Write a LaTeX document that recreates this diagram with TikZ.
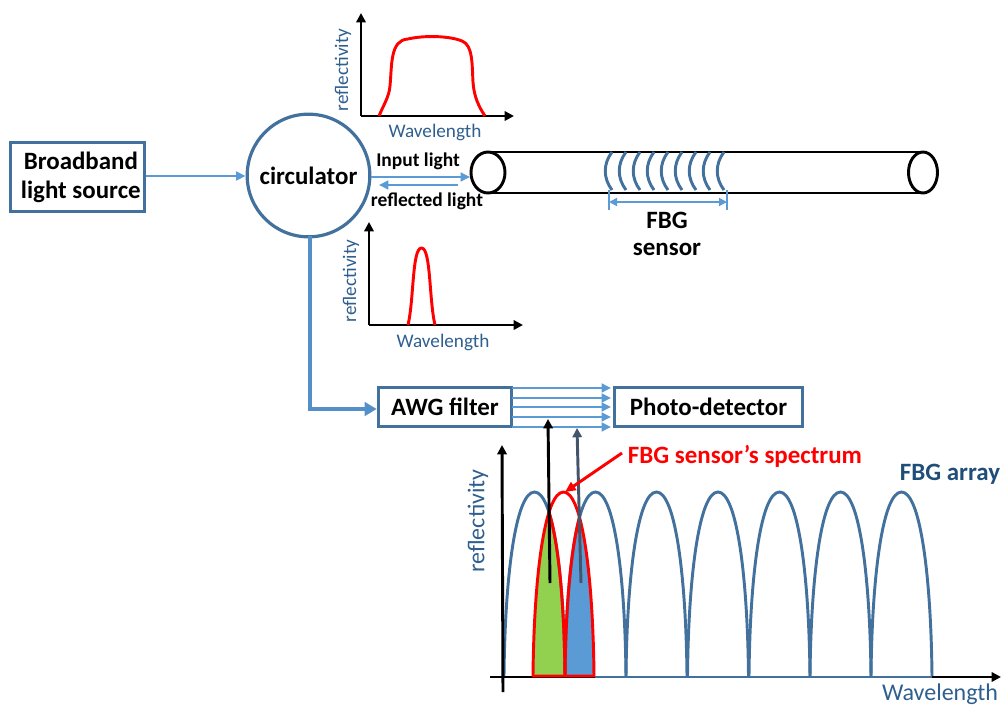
\documentclass[tikz,border=0pt]{standalone}
\usepackage{fontspec}
\setmainfont{Carlito}
\usepackage{tikz}
\usetikzlibrary{positioning,arrows.meta}
\definecolor{boxblue}{HTML}{41719C}
\definecolor{lightblue}{HTML}{5B9BD5}
\definecolor{textblue}{HTML}{2F5F8F}
\definecolor{arraytext}{HTML}{1F4E79}
\definecolor{darkgrey}{HTML}{44546A}
\definecolor{fillgreen}{HTML}{92D050}
\newcommand{\archpath}[1]{(#1,676) .. controls (#1+1,574) and (#1+12,492) .. (#1+30.5,492) .. controls (#1+49,492) and (#1+60,574) .. (#1+61,676)}
\tikzset{
	blockfont/.style={font=\fontsize{18.7}{21.7}\selectfont\bfseries},
	blockbox/.style={draw=boxblue, line width=2.4pt, blockfont, inner sep=0pt, align=center},
	lightarrow/.style={draw=lightblue, line width=1.8pt, -{Triangle[length=7pt,width=6.5pt]}},
	axisline/.style={draw=black, line width=2.2pt, -{Triangle[length=7pt,width=7pt]}},
	redcurve/.style={draw=red, line width=2.2pt, line join=round},
	arraycurve/.style={draw=boxblue, line width=2.2pt},
	smalllabel/.style={font=\fontsize{14.6}{17}\selectfont\bfseries},
	wavelabel/.style={text=textblue, font=\fontsize{14.4}{17}\selectfont},
	biglabel/.style={text=textblue, inner sep=0pt, font=\fontsize{18}{21}\selectfont},
}
\begin{document}
\begin{tikzpicture}[x=0.75pt,y=-0.75pt]
	\useasboundingbox (0,0) rectangle (1001,707);
	% boxes and circulator
	\node[blockbox, minimum width=100.5pt, minimum height=52pt] (source) at (77.5,177) {\hspace*{5pt}Broadband\\\hspace*{5pt}light source};
	\node[draw=boxblue, line width=2.4pt, circle, minimum size=92pt, inner sep=0pt, blockfont] (circ) at (308.5,175.5) {circulator};
	\node[blockbox, minimum width=100pt, minimum height=29.2pt] (awg) at (445,407) {AWG filter};
	\node[blockbox, minimum width=141pt, minimum height=29.2pt] (pd) at (708.5,407) {Photo-detector};
	% fibre
	\draw[line width=2.2pt] (487,152) -- (923,152);
	\draw[line width=2.2pt] (487,193) -- (923,193);
	\draw[line width=2.2pt, fill=white] (923,172.5) ellipse (14.5 and 20.5);
	\draw[line width=2.2pt, fill=white] (488,172.5) ellipse (17 and 20.5);
	% grating
	\foreach \gx in {612,626,640,654,668,682,696,710,724}
		\draw[draw=boxblue, line width=2.2pt] (\gx,152) .. controls (\gx-9,164) and (\gx-9,178) .. (\gx,190);
	% connectors
	\coordinate (fibrein) at (470,177);
	\coordinate (reflstart) at (458,185);
	\coordinate (reflend) at (379,185);
	\draw[lightarrow] (source.east |- 0,176) -- (circ.west |- 0,176);
	\draw[lightarrow] (circ.east |- fibrein) -- (fibrein);
	\draw[lightarrow, line width=2.1pt] (reflstart) -- (reflend);
	\coordinate (gratl) at (609,202);
	\coordinate (gratr) at (727,202);
	\draw[draw=lightblue, line width=1.3pt, {Triangle[length=6pt,width=6pt]}-{Triangle[length=6pt,width=6pt]}] (gratl) -- (gratr);
	\draw[draw=lightblue, line width=1.3pt] (609,190) -- (609,210);
	\draw[draw=lightblue, line width=1.3pt] (727,190) -- (727,210);
	\coordinate (circdown) at (310,409);
	\draw[draw=lightblue!75!boxblue, line width=3pt, -{Triangle[length=9pt,width=10pt]}] (310,236) -- (circdown) -- (awg.west |- circdown);
	\foreach \ay in {388,398,407,417,427}
		\draw[lightarrow] (512,\ay) -- (611,\ay);
	% labels
	\node[smalllabel] (inlabel) at (418,161) {Input light};
	\node[smalllabel] (refllabel) at (427,201) {reflected light};
	\node[blockfont, align=center] (fbgtext) at (667,233.5) {FBG\\[-1.5pt]sensor};
	% top plot
	\coordinate (topo) at (361,116);
	\draw[axisline] (topo) -- (361,13);
	\draw[axisline] (topo) -- (514,116);
	\draw[redcurve] (379,116) .. controls (384,104) and (389,97) .. (390,86) .. controls (392,65) and (390,40) .. (408,39) .. controls (425,35) and (450,36) .. (462,41) .. controls (473,45) and (472,65) .. (473,82) .. controls (474,97) and (479,107) .. (485,116);
	\node[wavelabel] (topwave) at (435,132) {Wavelength};
	\node[wavelabel, rotate=90] (toprefl) at (343,70) {reflectivity};
	% middle plot
	\coordinate (mido) at (369,325);
	\draw[axisline] (mido) -- (369,222);
	\draw[axisline] (mido) -- (523,325);
	\draw[redcurve] (408,325) .. controls (414,300) and (412,248) .. (421.5,248) .. controls (431,248) and (429,300) .. (435,325);
	\node[wavelabel] (midwave) at (443,342) {Wavelength};
	\node[wavelabel, rotate=90] (midrefl) at (351,281) {reflectivity};
	% spectrum
	\begin{scope}
		\clip \archpath{504} -- cycle;
		\fill[fillgreen] \archpath{533} -- cycle;
	\end{scope}
	\begin{scope}
		\clip \archpath{565} -- cycle;
		\fill[lightblue] \archpath{533} -- cycle;
	\end{scope}
	\draw[draw=black, line width=2.2pt] (490,677) -- (626,677);
	\draw[draw=boxblue, line width=2.2pt] (595,677) -- (932,677);
	\draw[axisline] (932,677) -- (1001,677);
	\foreach \bx in {504,565,626,687.5,749,810,871}
		\draw[arraycurve] \archpath{\bx};
	\begin{scope}
		\clip \archpath{533} -- cycle;
		\draw[redcurve] \archpath{504};
		\draw[redcurve] \archpath{565};
	\end{scope}
	\draw[redcurve] \archpath{533} -- cycle;
	% axes
	\draw[axisline] (503,692) -- (502,445);
	% pointers
	\draw[axisline] (550,583) -- (548,419);
	\draw[axisline, draw=darkgrey] (581,583) -- (577,428);
	\node[text=red, blockfont] (speclabel) at (745,456) {FBG sensor’s spectrum};
	\coordinate (specpeak) at (565,492);
	\draw[draw=red, line width=2.2pt, -{Triangle[length=8pt,width=7pt]}] (622,453) -- (specpeak);
	\node[text=arraytext, inner sep=0pt, blockfont] (arraylabel) at (950,474) {FBG array};
	\node[biglabel] (bigwave) at (940,694) {Wavelength};
	\node[biglabel, rotate=90] (bigrefl) at (478,521) {reflectivity};
\end{tikzpicture}
\end{document}
